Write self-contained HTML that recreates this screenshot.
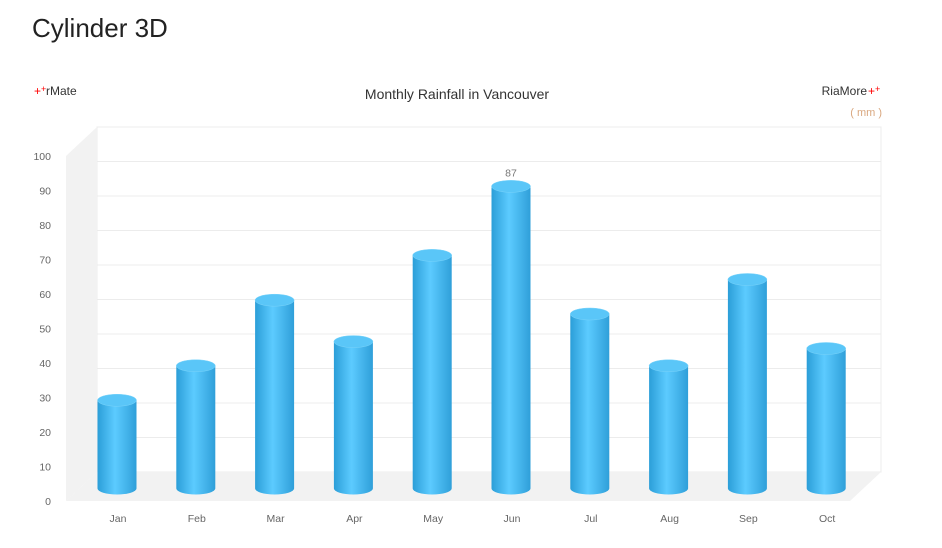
<!DOCTYPE html>
<html><head><meta charset="utf-8"><style>
body{margin:0;background:#fff;font-family:"Liberation Sans",sans-serif;}
svg text{font-family:"Liberation Sans",sans-serif;}
</style></head><body>
<svg width="942" height="543" xmlns="http://www.w3.org/2000/svg">
<defs>
<linearGradient id="cg" x1="0" x2="1" y1="0" y2="0">
<stop offset="0" stop-color="#2b9ed8"/><stop offset="0.45" stop-color="#5ccbff"/><stop offset="1" stop-color="#2f9fd9"/>
</linearGradient>
</defs>
<text x="32" y="37" font-size="26" fill="#222">Cylinder 3D</text>
<text x="34" y="95" font-size="12" fill="red">+<tspan dy="-3" font-size="9">+</tspan></text>
<text x="46" y="95" font-size="12" fill="#333">rMate</text>
<text x="457" y="99" font-size="14" fill="#333" text-anchor="middle">Monthly Rainfall in Vancouver</text>
<text x="867" y="95" font-size="12" fill="#333" text-anchor="end">RiaMore</text>
<text x="868" y="95" font-size="12" fill="red">+<tspan dy="-3" font-size="9">+</tspan></text>
<text x="882" y="116" font-size="11" fill="#d9a77f" text-anchor="end">( mm )</text>
<g id="plot"></g>
</svg>
<script>
const categories=["Jan","Feb","Mar","Apr","May","Jun","Jul","Aug","Sep","Oct"];
const values=[25,35,54,42,67,87,50,35,60,40];
const ticks=[0,10,20,30,40,50,60,70,80,90,100];
const labelIdx=[5];
const NS="http://www.w3.org/2000/svg";
const g=document.getElementById('plot');
function mk(t,a){const e=document.createElementNS(NS,t);for(const k in a)e.setAttribute(k,a[k]);g.appendChild(e);return e;}
const unit=3.45, dx=31, dy=29, fx0=66, fy0=501, bx1=881;
const yFront=v=>fy0-v*unit, yBack=v=>fy0-dy-v*unit, yMid=v=>fy0-dy/2-v*unit;
const xc=i=>117+i*78.8;
let e=mk('rect',{x:fx0+dx,y:yBack(100),width:bx1-fx0-dx,height:100*unit,fill:'#fff',stroke:'#ececec'});

e=mk('polygon',{points:`${fx0},${fy0} ${fx0+dx},${fy0-dy} ${fx0+dx},${yBack(100)} ${fx0},${yFront(100)}`,fill:'#f2f2f2'});

e=mk('polygon',{points:`${fx0},${fy0} ${fx0+dx},${fy0-dy} ${bx1},${fy0-dy} ${bx1-dx},${fy0}`,fill:'#f2f2f2'});

ticks.forEach(t=>{
  if(t>0&&t<100){const l=mk('line',{x1:fx0+dx,x2:bx1,y1:yBack(t),y2:yBack(t),stroke:'#ececec'});
  }
  const tx=mk('text',{x:51,y:yFront(t)+4,'font-size':10.5,fill:'#666','text-anchor':'end'});tx.textContent=t;
  
});
const w=39, ry=6, base=yMid(0)+2;
categories.forEach((c,i)=>{
  const x=xc(i), top=yMid(values[i]);
  const body=mk('path',{d:`M${x-w/2},${top} L${x-w/2},${base} A${w/2},${ry} 0 0 0 ${x+w/2},${base} L${x+w/2},${top} Z`,fill:'url(#cg)'});
  
  const cap=mk('ellipse',{cx:x,cy:top,rx:w/2,ry:ry,fill:'#5ac6f8',stroke:'#7ad4fb','stroke-width':0.5});
  
  const lb=mk('text',{x:x+1,y:522,'font-size':10.5,fill:'#666','text-anchor':'middle'});lb.textContent=c;
  
  if(labelIdx.includes(i)){const vl=mk('text',{x:x,y:top-10,'font-size':10.5,fill:'#777','text-anchor':'middle'});vl.textContent=values[i];
  }
});
</script>
</body></html>
